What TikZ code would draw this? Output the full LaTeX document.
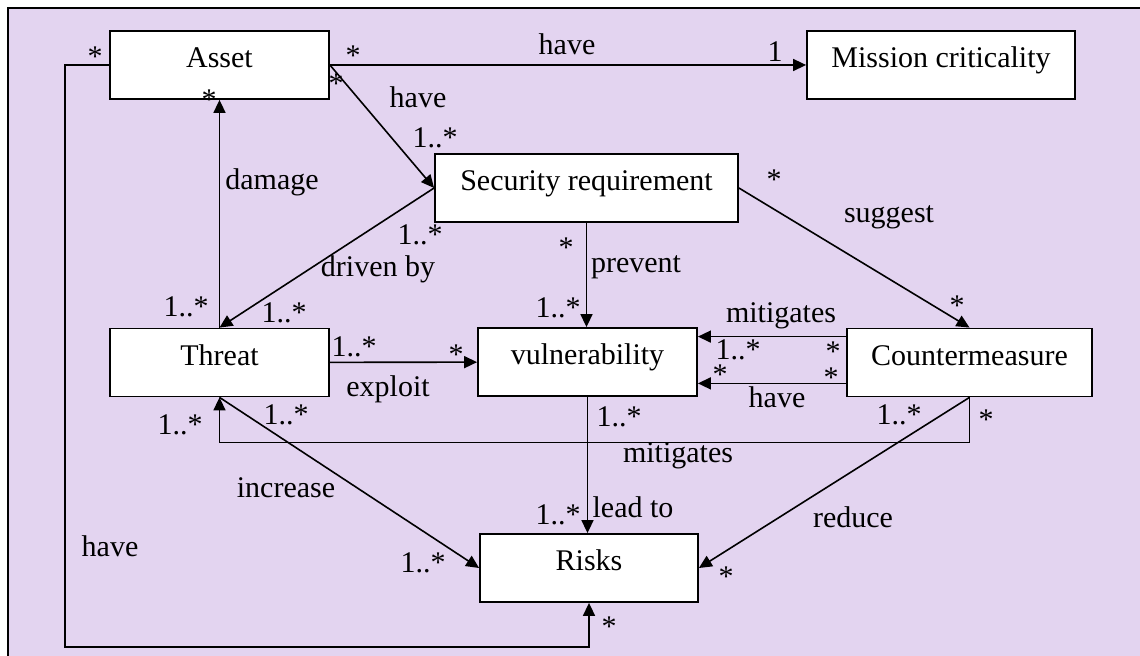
\documentclass[tikz,border=0pt]{standalone}
\usepackage{fontspec}
\setmainfont{Liberation Serif}
\usepackage{xcolor}
\usepackage{tikz}
\usetikzlibrary{arrows.meta}
\definecolor{lilac}{RGB}{227,212,240}
\tikzstyle{block} = [draw, fill=white,
	line width=0.9pt,
	minimum height=34pt,
	text height=10pt,
	text depth=7pt]
\tikzstyle{arrow} = [-{Triangle[length=6.5pt, width=6pt]}, line width=0.8pt]
\tikzstyle{lbl} = [anchor=base, inner sep=0pt]

\begin{document}
\begin{tikzpicture}[x=0.5pt, y=-0.5pt, font=\fontsize{15}{18}\selectfont]
			\useasboundingbox (0,0) rectangle (1140,656);
			\clip (0,0) rectangle (1140,656);
			\draw [line width=1pt, fill=lilac] (8,8) rectangle (1170,690);
			
			\node (asset) [block, minimum width=109.5pt] at (219.5,65) {Asset};
			\node (mission) [block, minimum width=134pt] at (941,65) {Mission criticality};
			\node (secreq) [block, minimum width=151.5pt] at (586.5,188) {Security requirement};
			\node (threat) [block, minimum width=109.5pt] at (219.5,362.5) {Threat};
			\node (vuln) [block, minimum width=109.5pt] at (587.5,362) {vulnerability};
			\node (counter) [block, minimum width=122.5pt] at (969.5,362.5) {Countermeasure};
			\node (risks) [block, minimum width=109pt] at (589,568) {Risks};
			
			\draw [arrow] (asset) -- (mission);
			\node [lbl] (h1) at (567,55) {have};
			\node [lbl] (m1) at (353,66) {*};
			\node [lbl] (m2) at (775,62) {1};
			
			\draw [arrow] (asset.east) -- (secreq.west);
			\node [lbl] (h2) at (418,108) {have};
			\node [lbl] (m3) at (336,94) {*};
			\node [lbl] (m4) at (435,148) {1..*};
			
			\draw [arrow] (threat) -- (asset);
			\node [lbl] (dmg) at (272,190) {damage};
			\node [lbl] (m5) at (209,110) {*};
			\node [lbl] (m6) at (186,317) {1..*};
			
			\draw [arrow] (secreq.west) -- (threat.north);
			\node [lbl] (drv) at (378,277) {driven by};
			\node [lbl] (m7) at (284,323) {1..*};
			\node [lbl] (m8) at (420,245) {1..*};
			
			\draw [arrow] (secreq.south) -- (secreq.south |- vuln.north);
			\node [lbl] (prv) at (636,273) {prevent};
			\node [lbl] (m9) at (566,258) {*};
			\node [lbl] (m10) at (558,318) {1..*};
			
			\draw [arrow] (secreq.east) -- (counter.north);
			\node [lbl] (sug) at (889,223) {suggest};
			\node [lbl] (m11) at (774,190) {*};
			\node [lbl] (m12) at (957,316) {*};
			
			\draw [arrow] (threat) -- (vuln);
			\node [lbl] (expl) at (388,397) {exploit};
			\node [lbl] (m13) at (354,357) {1..*};
			\node [lbl] (m14) at (456,365) {*};
			
			\draw [arrow] ([yshift=-4.5pt]counter.north west) -- ([yshift=-4.5pt]counter.north west -| vuln.east);
			\node [lbl] (mit1) at (781,323) {mitigates};
			\node [lbl] (m15) at (738,360) {1..*};
			\node [lbl] (m16) at (833,362) {*};
			
			\draw [arrow] ([yshift=7pt]counter.south west) -- ([yshift=7pt]counter.south west -| vuln.east);
			\node [lbl] (h3) at (777,408) {have};
			\node [lbl] (m17) at (720,385) {*};
			\node [lbl] (m18) at (831,388) {*};
			
			\draw [arrow] (counter.south) -- ++(0,45) -| (threat.south);
			\node [lbl] (mit2) at (678,463) {mitigates};
			\node [lbl] (m19) at (899,425) {1..*};
			\node [lbl] (m20) at (986,430) {*};
			\node [lbl] (m21) at (180,435) {1..*};
			
			\draw [arrow] (threat.south) -- (risks.west);
			\node [lbl] (inc) at (286,498) {increase};
			\node [lbl] (m22) at (286,425) {1..*};
			\node [lbl] (m23) at (423,573) {1..*};
			
			\draw [arrow] (vuln.south) -- (vuln.south |- risks.north);
			\node [lbl] (lead) at (633,518) {lead to};
			\node [lbl] (m24) at (619,427) {1..*};
			\node [lbl] (m25) at (558,525) {1..*};
			
			\draw [arrow] (counter.south) -- (risks.east);
			\node [lbl] (red) at (853,528) {reduce};
			\node [lbl] (m26) at (726,587) {*};
			
			\coordinate (bl) at (65,647);
			\draw [arrow] (asset.west) -| (bl) -| (risks.south);
			\node [lbl] (h4) at (110,557) {have};
			\node [lbl] (m27) at (95,67) {*};
			\node [lbl] (m28) at (609,637) {*};
			
		\end{tikzpicture}
\end{document}
